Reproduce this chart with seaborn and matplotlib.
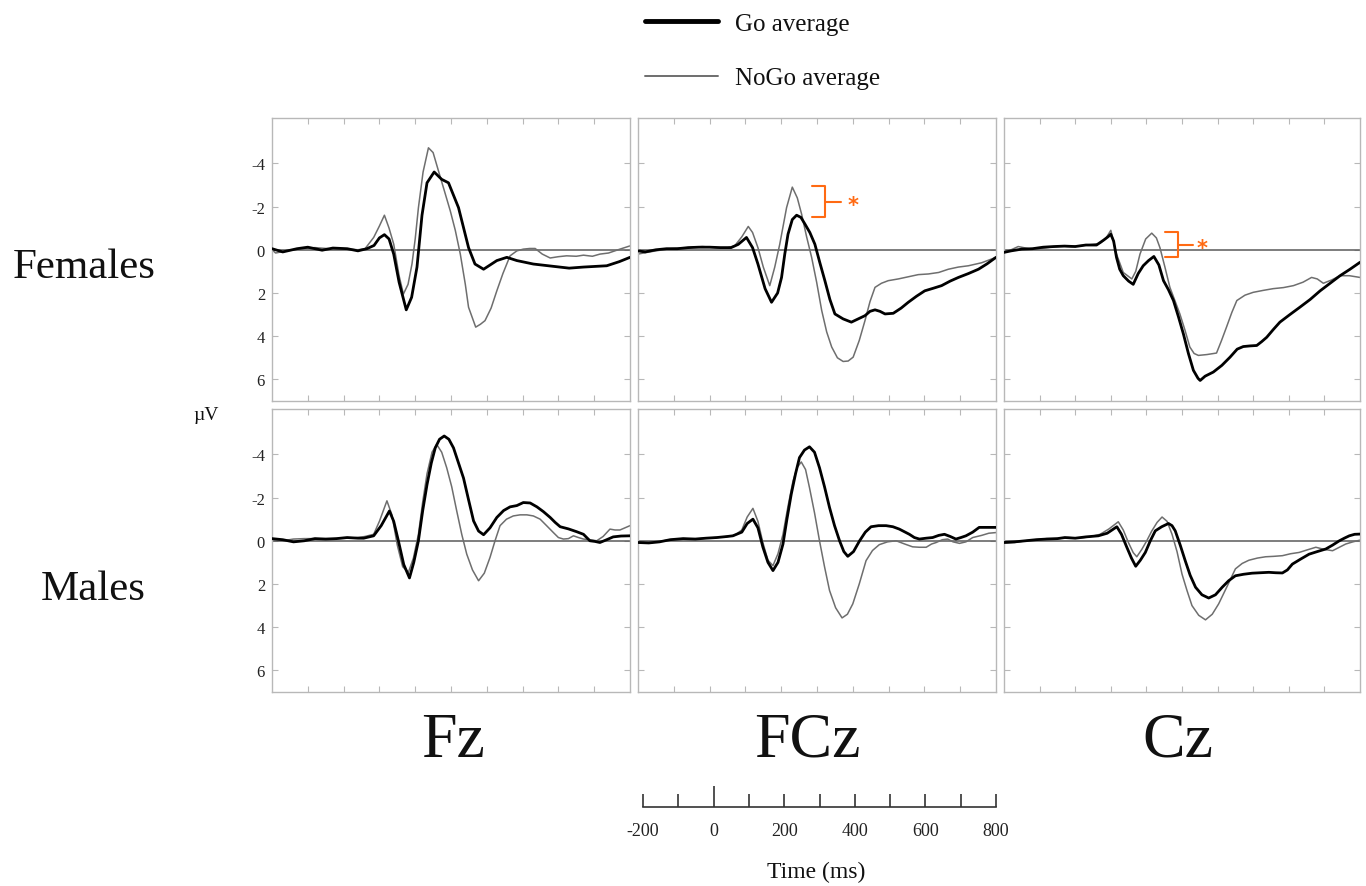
import numpy as np
import pandas as pd
import matplotlib
matplotlib.use("Agg")
import matplotlib.pyplot as plt
import seaborn as sns
from matplotlib.lines import Line2D

# ---------------- data (µV, negative up) ----------------
fz_f_go_t = [-200,-170,-130,-100,-60,-30,10,40,65,85,100,114,127,140,155,175,190,205,219,233,253,274,293,321,349,367,391,428,456,484,530,577,630,670,735,770,800]
fz_f_go_v = [-0.05,0.1,-0.05,-0.12,0.02,-0.08,-0.05,0.05,-0.05,-0.2,-0.55,-0.7,-0.5,0.2,1.5,2.78,2.2,0.8,-1.6,-3.1,-3.6,-3.26,-3.1,-1.95,-0.1,0.66,0.9,0.5,0.35,0.5,0.66,0.75,0.85,0.8,0.74,0.55,0.35]
fz_f_nogo_t = [-200,-190,-160,-120,-80,-40,0,40,60,84,100,114,127,140,155,167,180,191,200,209,222,237,250,265,282,298,312,326,340,349,369,382,395,412,428,445,465,484,502,520,535,555,577,600,623,650,670,695,716,740,772,800]
fz_f_nogo_v = [0.0,0.15,0.05,-0.05,-0.1,-0.05,-0.05,0.0,-0.05,-0.57,-1.1,-1.6,-1.0,-0.26,1.2,2.05,1.6,0.66,-0.5,-1.95,-3.6,-4.72,-4.5,-3.65,-2.7,-1.8,-0.9,0.2,1.6,2.66,3.58,3.45,3.28,2.7,1.9,1.1,0.28,0.05,-0.03,-0.06,-0.06,0.2,0.38,0.32,0.28,0.3,0.25,0.3,0.2,0.15,-0.03,-0.18]

fcz_f_go_t = [-200,-180,-150,-120,-90,-60,-30,0,30,60,80,103,120,135,155,173,190,201,210,219,231,243,255,266,280,294,308,322,336,350,373,396,415,434,448,462,476,490,513,535,555,578,601,625,648,672,695,723,751,775,800]
fcz_f_go_v = [0.05,0.1,0.0,-0.05,-0.05,-0.1,-0.12,-0.12,-0.1,-0.1,-0.25,-0.57,-0.1,0.66,1.8,2.43,2.0,1.28,0.2,-0.72,-1.4,-1.6,-1.5,-1.2,-0.8,-0.26,0.6,1.43,2.3,2.97,3.2,3.35,3.2,3.05,2.85,2.78,2.85,2.97,2.94,2.7,2.43,2.15,1.9,1.78,1.66,1.45,1.28,1.1,0.9,0.65,0.35]
fcz_f_nogo_t = [-200,-185,-150,-110,-60,-20,20,50,70,90,108,120,135,150,168,182,196,215,231,245,257,271,285,299,313,327,341,357,373,387,401,418,434,448,462,480,499,527,555,583,611,640,667,695,723,760,800]
fcz_f_nogo_v = [0.2,0.15,0.05,-0.05,-0.1,-0.15,-0.1,-0.1,-0.18,-0.6,-1.08,-0.8,-0.1,0.8,1.66,0.8,-0.26,-1.95,-2.9,-2.4,-1.65,-0.6,0.35,1.5,2.8,3.8,4.5,5.0,5.17,5.15,4.97,4.2,3.28,2.4,1.74,1.55,1.43,1.35,1.25,1.15,1.12,1.05,0.9,0.8,0.74,0.6,0.35]

cz_f_go_t = [-200,-180,-150,-120,-90,-60,-30,0,30,60,80,92,100,108,116,125,135,150,163,177,191,206,221,235,248,262,276,290,304,318,332,345,351,365,388,412,435,455,472,491,510,524,538,556,575,603,631,660,688,716,744,772,800]
cz_f_go_v = [0.12,0.05,-0.03,-0.05,-0.12,-0.15,-0.17,-0.15,-0.22,-0.22,-0.45,-0.6,-0.72,-0.4,0.35,0.9,1.2,1.45,1.6,1.1,0.74,0.5,0.31,0.7,1.43,1.85,2.35,3.1,3.9,4.8,5.58,5.95,6.05,5.85,5.66,5.35,4.97,4.6,4.48,4.45,4.43,4.25,4.05,3.7,3.35,3.0,2.66,2.3,1.9,1.55,1.2,0.9,0.58]
cz_f_nogo_t = [-200,-180,-160,-130,-100,-70,-40,-10,20,50,70,85,100,116,135,159,170,182,198,215,228,238,252,266,280,294,308,322,334,346,370,397,411,425,440,454,477,500,528,556,585,613,640,664,680,697,720,744,770,800]
cz_f_nogo_v = [0.05,0.0,-0.15,-0.05,-0.05,-0.12,-0.17,-0.15,-0.2,-0.25,-0.3,-0.5,-0.9,0.2,1.05,1.35,1.0,0.2,-0.5,-0.77,-0.55,-0.1,0.8,1.74,2.35,2.97,3.7,4.5,4.8,4.89,4.85,4.78,4.2,3.58,2.9,2.35,2.1,1.97,1.88,1.8,1.75,1.66,1.5,1.28,1.35,1.55,1.4,1.2,1.2,1.28]

fz_m_go_t = [-200,-170,-140,-110,-80,-50,-20,10,40,56,84,105,128,140,153,168,184,196,209,221,233,245,256,268,281,294,307,321,335,349,363,377,391,409,428,447,465,484,502,521,540,558,577,591,605,628,651,670,688,702,716,735,753,775,800]
fz_m_go_v = [-0.1,-0.05,0.05,0.0,-0.1,-0.08,-0.1,-0.15,-0.12,-0.12,-0.23,-0.7,-1.38,-0.9,0.0,1.1,1.72,1.0,0.0,-1.4,-2.6,-3.6,-4.3,-4.7,-4.85,-4.7,-4.3,-3.6,-2.9,-1.9,-0.92,-0.45,-0.28,-0.6,-1.08,-1.4,-1.57,-1.63,-1.77,-1.75,-1.57,-1.35,-1.08,-0.85,-0.65,-0.55,-0.42,-0.3,0.0,0.03,0.08,-0.05,-0.18,-0.22,-0.23]
fz_m_nogo_t = [-200,-170,-140,-110,-80,-50,-20,10,40,60,84,100,121,135,150,165,181,195,209,221,233,247,260,274,288,302,316,330,344,360,377,393,409,423,437,455,474,493,512,530,549,567,586,600,614,628,642,656,670,688,707,725,744,758,772,786,800]
fz_m_nogo_v = [-0.05,0.0,-0.08,-0.1,-0.1,-0.08,-0.1,-0.12,-0.15,-0.2,-0.3,-0.9,-1.85,-1.2,0.2,1.2,1.46,0.8,-0.3,-1.8,-3.1,-4.1,-4.46,-4.1,-3.38,-2.5,-1.38,-0.3,0.62,1.35,1.85,1.5,0.77,0.0,-0.7,-1.0,-1.15,-1.2,-1.2,-1.15,-1.0,-0.7,-0.38,-0.15,-0.08,-0.1,-0.23,-0.15,-0.08,-0.05,0.0,-0.2,-0.54,-0.5,-0.5,-0.6,-0.7]

fcz_m_go_t = [-200,-170,-140,-110,-74,-40,-10,20,50,65,90,105,121,135,149,163,177,191,205,216,228,240,251,265,279,293,307,321,335,349,363,375,386,402,419,435,451,472,493,512,530,544,558,572,586,605,623,640,656,672,688,702,716,735,753,775,800]
fcz_m_go_v = [0.08,0.1,0.05,-0.05,-0.1,-0.08,-0.12,-0.15,-0.2,-0.23,-0.4,-0.8,-1.0,-0.6,0.3,1.0,1.38,1.0,0.15,-1.0,-2.15,-3.1,-3.85,-4.2,-4.35,-4.1,-3.38,-2.5,-1.54,-0.7,0.0,0.5,0.72,0.5,0.0,-0.4,-0.65,-0.7,-0.7,-0.65,-0.54,-0.42,-0.3,-0.15,-0.08,-0.12,-0.15,-0.25,-0.3,-0.2,-0.08,-0.15,-0.23,-0.4,-0.62,-0.62,-0.62]
fcz_m_nogo_t = [-200,-170,-140,-110,-74,-40,-10,20,50,70,90,105,121,135,149,163,177,191,205,219,233,245,256,268,279,293,307,321,335,352,370,385,400,418,437,455,474,497,521,545,567,586,605,620,633,650,665,680,698,716,735,760,780,800]
fcz_m_nogo_v = [0.08,0.1,0.03,-0.05,-0.1,-0.08,-0.12,-0.15,-0.2,-0.25,-0.5,-1.1,-1.5,-0.9,0.1,0.9,1.15,0.6,-0.3,-1.6,-2.77,-3.4,-3.65,-3.3,-2.46,-1.3,0.0,1.2,2.3,3.1,3.57,3.4,2.92,2.0,0.92,0.45,0.18,0.05,0.0,0.15,0.28,0.3,0.3,0.15,0.08,-0.05,-0.08,0.05,0.12,0.05,-0.15,-0.25,-0.35,-0.38]

cz_m_go_t = [-200,-170,-140,-110,-80,-50,-29,0,30,65,90,117,130,145,158,170,183,197,211,225,243,262,272,281,295,309,323,338,356,375,394,413,431,450,473,497,520,544,563,582,596,610,633,657,680,704,723,742,756,770,785,800]
cz_m_go_v = [0.08,0.05,0.0,-0.05,-0.08,-0.1,-0.15,-0.12,-0.18,-0.23,-0.35,-0.65,-0.3,0.3,0.8,1.18,0.9,0.54,0.0,-0.46,-0.65,-0.8,-0.7,-0.46,0.2,0.92,1.6,2.15,2.5,2.65,2.5,2.15,1.85,1.62,1.55,1.5,1.48,1.46,1.48,1.49,1.35,1.08,0.85,0.62,0.5,0.38,0.2,0.0,-0.12,-0.23,-0.3,-0.31]
cz_m_nogo_t = [-200,-170,-140,-110,-80,-50,-20,10,40,70,95,121,135,150,163,173,187,201,215,230,244,258,272,286,300,314,328,347,366,385,403,427,450,469,488,512,535,558,582,605,629,652,676,700,723,742,760,780,800]
cz_m_nogo_v = [0.1,0.08,0.0,-0.05,-0.1,-0.1,-0.15,-0.12,-0.18,-0.3,-0.55,-0.88,-0.5,0.1,0.55,0.74,0.4,0.0,-0.45,-0.85,-1.1,-0.9,-0.3,0.5,1.54,2.3,3.0,3.45,3.66,3.4,2.92,2.1,1.3,1.05,0.9,0.8,0.74,0.72,0.69,0.6,0.54,0.42,0.3,0.4,0.46,0.3,0.15,0.05,-0.03]

rows_lbl = ["Females", "Males"]
cols_lbl = ["Fz", "FCz", "Cz"]
yticks = [-4, -2, 0, 2, 4, 6]
scale_ticks = [-200, -100, 0, 100, 200, 300, 400, 500, 600, 700, 800]
scale_labels = ["-200", "", "0", "", "200", "", "400", "", "600", "", "800"]
legend_labels = ["Go average", "NoGo average"]

panels = {
    (0, 0): (fz_f_go_t, fz_f_go_v, fz_f_nogo_t, fz_f_nogo_v),
    (0, 1): (fcz_f_go_t, fcz_f_go_v, fcz_f_nogo_t, fcz_f_nogo_v),
    (0, 2): (cz_f_go_t, cz_f_go_v, cz_f_nogo_t, cz_f_nogo_v),
    (1, 0): (fz_m_go_t, fz_m_go_v, fz_m_nogo_t, fz_m_nogo_v),
    (1, 1): (fcz_m_go_t, fcz_m_go_v, fcz_m_nogo_t, fcz_m_nogo_v),
    (1, 2): (cz_m_go_t, cz_m_go_v, cz_m_nogo_t, cz_m_nogo_v),
}

# ---------------- figure ----------------
sns.set_theme(style="white")
plt.rcParams["font.family"] = ["Liberation Serif", "DejaVu Serif"]
plt.rcParams["text.color"] = "#111111"

W, H = 1366, 887
fig = plt.figure(figsize=(W / 100, H / 100), dpi=100)


def rect(l, t, r, b):
    return [l / W, 1 - b / H, (r - l) / W, (b - t) / H]


col_px = [(272, 630), (638, 996), (1004, 1360)]
row_px = [(119, 402), (410, 693)]
GO_C, NOGO_C, SPINE_C, ORANGE = "#000000", "#6e6e6e", "#b8b8b8", "#ff6a13"

axes = {}
for ri, (t0, b0) in enumerate(row_px):
    for ci, (l0, r0) in enumerate(col_px):
        ax = fig.add_axes(rect(l0, t0, r0, b0))
        gt, gv, nt, nv = panels[(ri, ci)]
        ax.axhline(0, color="#5a5a5a", lw=1.1, zorder=1)
        sns.lineplot(x=nt, y=nv, ax=ax, color=NOGO_C, lw=1.1, estimator=None, sort=False,
                     zorder=2, solid_joinstyle="round")
        sns.lineplot(x=gt, y=gv, ax=ax, color=GO_C, lw=2.0, estimator=None, sort=False,
                     zorder=3, solid_joinstyle="round")
        ax.set_xlim(-200, 800)
        ax.set_ylim(7, -6.1)
        ax.set_xticks(range(-100, 800, 100))
        ax.set_yticks(yticks)
        ax.set_yticklabels([str(v) for v in yticks])
        ax.tick_params(direction="in", top=True, right=True, bottom=True, left=True,
                       length=4, width=0.8, color=SPINE_C, labelbottom=False,
                       labelleft=(ci == 0), labelsize=12, labelcolor="#222222", pad=5)
        ax.set_xlabel("")
        ax.set_ylabel("")
        ax.grid(False)
        for s in ax.spines.values():
            s.set_color(SPINE_C)
            s.set_linewidth(1.0)
        axes[(ri, ci)] = ax

# significance brackets (annotations)
def bracket(ax, x, x_left, x_right, y_top, y_bot, x_star):
    ax.plot([x_left, x, x, x_left], [y_top, y_top, y_bot, y_bot], color=ORANGE, lw=1.5, zorder=4)
    ym = (y_top + y_bot) / 2
    ax.plot([x, x_right], [ym, ym], color=ORANGE, lw=1.5, zorder=4)
    ax.text(x_star, ym + 0.15, "*", color=ORANGE, fontsize=15, fontweight="bold",
            ha="center", va="center", family="DejaVu Sans")

bracket(axes[(0, 1)], 322, 285, 368, -2.95, -1.5, 401)
bracket(axes[(0, 2)], 290, 252, 332, -0.8, 0.35, 356)

# row / column labels
fig.text(84 / W, 1 - 268 / H, rows_lbl[0], fontsize=31, ha="center", va="center")
fig.text(93 / W, 1 - 590 / H, rows_lbl[1], fontsize=31, ha="center", va="center")
for cx, lbl in zip([453, 807, 1178], cols_lbl):
    fig.text(cx / W, 1 - 742 / H, lbl, fontsize=46, ha="center", va="center")
fig.text(206 / W, 1 - 416 / H, "µV", fontsize=14, ha="center", va="center")

# legend
handles = [Line2D([], [], color=GO_C, lw=3.5), Line2D([], [], color=NOGO_C, lw=1.4)]
fig.legend(handles, legend_labels, loc="upper left", bbox_to_anchor=(635 / W, 1 - 3 / H),
           frameon=False, fontsize=18, handlelength=2.9, handletextpad=0.7, labelspacing=1.3,
           borderaxespad=0.0)

# time scale bar
sax = fig.add_axes(rect(643, 780, 996, 808))
sax.set_xlim(-200, 800)
sax.set_ylim(0, 1)
sax.set_yticks([])
sax.set_xticks(scale_ticks)
sax.set_xticklabels(scale_labels)
sax.patch.set_alpha(0)
for k in ["top", "left", "right"]:
    sax.spines[k].set_visible(False)
sax.spines["bottom"].set_color("#333333")
sax.spines["bottom"].set_linewidth(1.2)
sax.tick_params(axis="x", direction="in", bottom=True, top=False, length=9.5, width=1.2,
                color="#333333", labelsize=13, labelcolor="#222222", pad=11)
sax.xaxis.get_major_ticks()[2].tick1line.set_markersize(15)
sax.grid(False)
fig.text(816 / W, 1 - 872 / H, "Time (ms)", fontsize=17, ha="center", va="center")

fig.savefig("out.png", dpi=100, facecolor="white")
